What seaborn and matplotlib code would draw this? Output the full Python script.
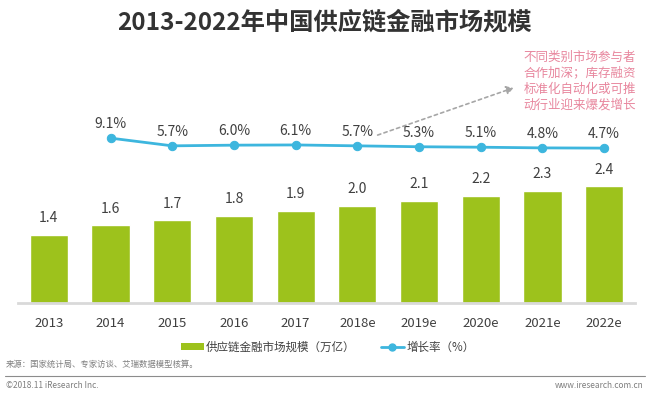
import matplotlib
matplotlib.use("Agg")
import matplotlib.pyplot as plt
import seaborn as sns
import pandas as pd
from matplotlib.patches import Patch
from matplotlib.lines import Line2D

sns.set_style("white")
plt.rcParams['font.family'] = ['Noto Sans CJK SC', 'DejaVu Sans']

categories = ["2013", "2014", "2015", "2016", "2017", "2018e", "2019e", "2020e", "2021e", "2022e"]
market_size = [1.4, 1.6, 1.7, 1.8, 1.9, 2.0, 2.1, 2.2, 2.3, 2.4]
growth_cats = ["2014", "2015", "2016", "2017", "2018e", "2019e", "2020e", "2021e", "2022e"]
growth_rate = [9.1, 5.7, 6.0, 6.1, 5.7, 5.3, 5.1, 4.8, 4.7]

title = "2013-2022年中国供应链金融市场规模"
legend_bar = "供应链金融市场规模（万亿）"
legend_line = "增长率（%）"
note_lines = ["不同类别市场参与者", "合作加深；库存融资", "标准化自动化或可推", "动行业迎来爆发增长"]
source = "来源：国家统计局、专家访谈、艾瑞数据模型核算。"
footer_left = "©2018.11 iResearch Inc."
footer_right = "www.iresearch.com.cn"

GREEN = "#9DC21C"
CYAN = "#3DB6DE"
TXT = "#404040"
PINK = "#E8879E"

W, H = 650, 398
fig = plt.figure(figsize=(W / 100, H / 100), dpi=100)
fig.patch.set_facecolor("white")
ax = fig.add_axes([18 / W, (H - 303) / H, 617 / W, (303 - 60) / H])

bar_df = pd.DataFrame({"year": categories, "size": market_size})
sns.barplot(data=bar_df, x="year", y="size", color=GREEN, width=0.62,
            saturation=1, ax=ax, order=categories)
ax.set_ylim(0, 5.0)
ax.set_xlim(-0.5, len(categories) - 0.5)
for i, v in enumerate(market_size):
    ax.annotate(f"{v:.1f}", (i, v), xytext=(0, 7), textcoords="offset points",
                ha="center", va="bottom", fontsize=10, color=TXT)

ax.set_xlabel("")
ax.set_ylabel("")
ax.set_yticks([])
ax.tick_params(axis="x", length=0, labelsize=9.5, labelcolor=TXT, pad=10)
for s in ["top", "right", "left"]:
    ax.spines[s].set_visible(False)
ax.spines["bottom"].set_color("#D9D9D9")
ax.spines["bottom"].set_linewidth(2)

ax2 = ax.twinx()
line_df = pd.DataFrame({"pos": [categories.index(c) for c in growth_cats], "rate": growth_rate})
sns.lineplot(data=line_df, x="pos", y="rate", ax=ax2, color=CYAN, linewidth=2,
             marker="o", markersize=6, markeredgecolor=CYAN)
ax2.set_ylim(-63.5, 43.5)
ax2.set_xlim(-0.5, len(categories) - 0.5)
ax2.set_yticks([])
ax2.set_ylabel("")
ax2.set_xlabel("")
for s in ["top", "right", "left", "bottom"]:
    ax2.spines[s].set_visible(False)
for p, v in zip(line_df["pos"], growth_rate):
    ax2.annotate(f"{v:.1f}%", (p, v), xytext=(0, 5), textcoords="offset points",
                 ha="center", va="bottom", fontsize=10, color=TXT)

fig.text(0.5, (H - 22) / H, title, ha="center", va="center", fontsize=17.5,
         fontweight="bold", color="#333333")

for k, line in enumerate(note_lines):
    fig.text(580 / W, (H - 57 - 16 * k) / H, line, ha="center", va="center",
             fontsize=9, color=PINK)

fig.add_artist(matplotlib.patches.FancyArrowPatch(
    (375 / W, (H - 136) / H), (516 / W, (H - 87) / H), transform=fig.transFigure,
    arrowstyle="-|>,head_length=4,head_width=2.5", linestyle=(0, (2, 2)),
    color="#A6A6A6", linewidth=1.2, mutation_scale=1))

handles = [Patch(facecolor=GREEN, edgecolor="none"),
           Line2D([0], [0], color=CYAN, linewidth=2, marker="o", markersize=5)]
fig.legend(handles, [legend_bar, legend_line], loc="center", bbox_to_anchor=(0.504, (H - 347) / H),
           ncol=2, frameon=False, fontsize=8.3, handlelength=2.0, handleheight=0.5,
           columnspacing=2.2, handletextpad=0.2, labelcolor=TXT)

fig.text(6 / W, (H - 364) / H, source, ha="left", va="center", fontsize=6, color="#7F7F7F")
fig.add_artist(Line2D([5 / W, 645 / W], [(H - 376) / H] * 2, transform=fig.transFigure,
                      color="#8C8C8C", linewidth=0.8))
fig.text(6 / W, (H - 386) / H, footer_left, ha="left", va="center", fontsize=6, color="#7F7F7F")
fig.text(644 / W, (H - 386) / H, footer_right, ha="right", va="center", fontsize=6, color="#7F7F7F")

fig.savefig("out.png", dpi=100, facecolor="white")
